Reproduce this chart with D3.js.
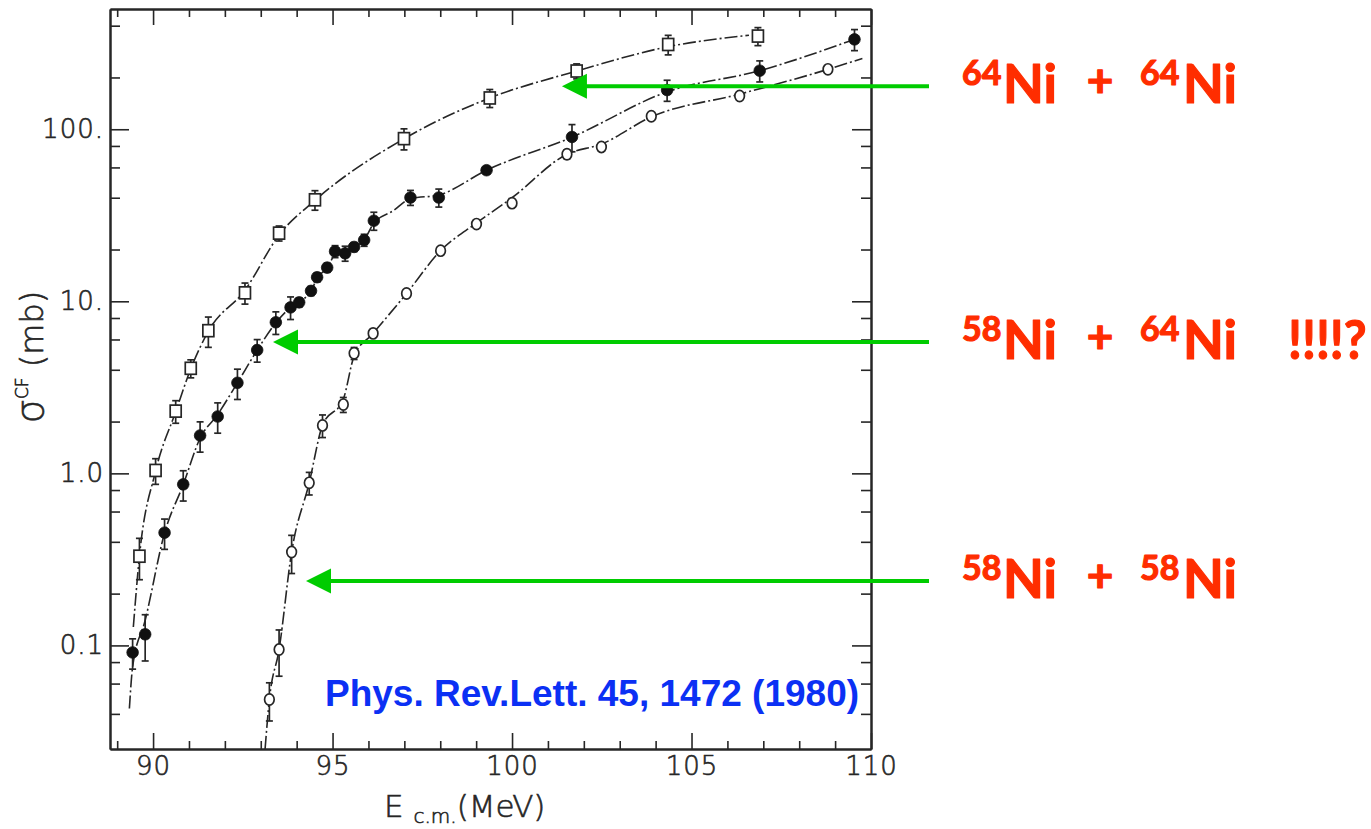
<!DOCTYPE html>
<html>
<head>
<meta charset="utf-8">
<script src="https://cdn.jsdelivr.net/npm/d3@7"></script>
<style>
  html, body { margin: 0; padding: 0; background: #fff; }
  svg { display: block; }
</style>
</head>
<body>
<svg id="chart" width="1371" height="829"></svg>
<script>
// ---- 64Ni + 64Ni (open squares) ----
const sqE   = [89.62, 90.07, 90.63, 91.05, 91.54, 92.56, 93.51, 94.51, 96.99, 99.38, 101.80, 104.35, 106.85];
const sqS   = [0.33, 1.04, 2.30, 4.08, 6.75, 11.2, 24.9, 38.9, 88.2, 152, 218, 311, 348];
const sqErr = [0.27, 0.17, 0.15, 0.12, 0.20, 0.14, 0.10, 0.13, 0.14, 0.12, 0.10, 0.13, 0.12];
const sqFitE = [89.45, 89.62, 90.07, 90.63, 91.05, 91.54, 92.56, 93.51, 94.51, 96.99, 99.38, 101.80, 104.35, 106.60];
const sqFitS = [0.128, 0.33, 1.03, 2.28, 4.05, 6.7, 11.6, 24.3, 38.6, 88, 152, 218, 302, 352];

// ---- 58Ni + 64Ni (filled circles) ----
const fcE   = [89.43, 89.78, 90.32, 90.84, 91.31, 91.80, 92.35, 92.90, 93.42, 93.83, 94.07, 94.40, 94.57, 94.85,
               95.07, 95.35, 95.60, 95.88, 96.15, 97.17, 97.96, 99.29, 101.67, 104.32, 106.90, 109.54];
const fcS   = [0.091, 0.116, 0.452, 0.863, 1.66, 2.14, 3.36, 5.21, 7.55, 9.22, 9.86, 11.5, 13.8, 15.7,
               19.5, 19.0, 20.7, 22.7, 29.4, 40.1, 40.1, 57.8, 90.2, 169, 219, 333];
const fcErr = [0.20, 0.30, 0.20, 0.20, 0.20, 0.20, 0.20, 0.15, 0.15, 0.15, 0.06, 0.06, 0.06, 0.06,
               0.08, 0.10, 0.06, 0.08, 0.12, 0.10, 0.12, 0.04, 0.18, 0.14, 0.14, 0.14];
const fcFitE = [89.34, 89.43, 89.78, 90.32, 90.84, 91.31, 91.80, 92.35, 92.90, 93.42, 93.83, 94.07, 94.40, 94.57,
                94.85, 95.07, 95.35, 95.60, 95.88, 96.15, 96.69, 97.17, 97.96, 99.29, 101.67, 104.32, 106.90, 109.54];
const fcFitS = [0.043, 0.075, 0.14, 0.45, 0.86, 1.6, 2.2, 3.36, 5.2, 7.5, 9.2, 9.9, 11.5, 13.6,
                15.7, 18.6, 19.4, 20.8, 22.7, 28.5, 33.6, 39.5, 41.5, 57.8, 90, 165, 219, 333];

// ---- 58Ni + 58Ni (open circles) ----
const ocE   = [93.24, 93.51, 93.86, 94.35, 94.72, 95.30, 95.60, 96.13, 97.06, 98.01, 99.01, 100.00,
               101.53, 102.49, 103.88, 106.34, 108.80];
const ocS   = [0.0485, 0.0946, 0.349, 0.881, 1.90, 2.51, 4.99, 6.51, 11.1, 19.7, 28.1, 37.2,
               71.6, 78.9, 119, 156, 223];
const ocErr = [0.25, 0.30, 0.25, 0.15, 0.15, 0.10, 0.08, 0.05, 0.05, 0.05, 0.05, 0.04,
               0.06, 0.05, 0.04, 0.04, 0.04];
const ocFitE = [93.12, 93.24, 93.51, 93.86, 94.35, 94.72, 95.30, 95.60, 96.13, 97.06, 98.01, 99.01, 100.00,
                101.53, 102.49, 103.88, 106.34, 108.80, 109.76];
const ocFitS = [0.025, 0.0485, 0.0946, 0.349, 0.881, 1.90, 2.7, 4.8, 6.51, 11.1, 19.7, 28.5, 40,
                71.6, 82, 118, 160, 223, 258];

// ---- axis ticks ----
const xMajorTicks  = [90, 95, 100, 105, 110];
const xMajorLabels = ["90", "95", "100", "105", "110"];
const xMinorTicks  = [89, 91, 92, 93, 94, 96, 97, 98, 99, 101, 102, 103, 104, 106, 107, 108, 109];
const yMajorTicks  = [0.1, 1, 10, 100];
const yMajorLabels = ["0.1", "1.0", "10.", "100."];
const yMinorTicks  = [0.04, 0.06, 0.08, 0.2, 0.4, 0.6, 0.8, 2, 4, 6, 8, 20, 40, 60, 80, 200, 400];

// ---- annotations: reaction labels with arrows pointing at each curve ----
const reactions   = [["64", "64", ""], ["58", "64", "!!!!?"], ["58", "58", ""]];
const arrowTipE   = [101.39, 93.34, 94.26];
const arrowTipS   = [178, 5.80, 0.237];
const citation    = "Phys. Rev.Lett. 45, 1472 (1980)";

// ---------------------------------------------------------------
const svg = d3.select("#chart");
const plot = { left: 110, right: 871, top: 9, bottom: 749 };

const x = d3.scaleLinear().domain([88.8, 110]).range([plot.left, plot.right]);
const y = d3.scaleLog().domain([0.025, 500]).range([plot.bottom, plot.top]);

const ink = "#262626";
const gothic = "'DejaVu Sans', sans-serif";

const chart = svg.append("g").attr("class", "figure");

// light gothic lettering, thickened slightly with a thin outline
function gothicText(sel, size) {
  return sel.attr("font-family", gothic).attr("font-weight", 200).attr("font-size", size)
    .attr("fill", ink).attr("stroke", ink).attr("stroke-width", 0.6);
}

// Axes with inward-pointing ticks on all four sides
function styleAxis(g) {
  g.selectAll("path.domain").attr("stroke", ink).attr("stroke-width", 2);
  g.selectAll(".tick line").attr("stroke", ink).attr("stroke-width", 1.6);
  g.selectAll(".tick text").call(gothicText, 26).attr("letter-spacing", 1);
}
const fmtFrom = (ticks, labels) => v => labels[ticks.indexOf(v)];

// bottom
chart.append("g").attr("transform", `translate(0,${plot.bottom})`)
  .call(d3.axisBottom(x).tickValues(xMinorTicks).tickSize(-8).tickSizeOuter(0).tickFormat(""))
  .call(styleAxis);
chart.append("g").attr("transform", `translate(0,${plot.bottom})`)
  .call(d3.axisBottom(x).tickValues(xMajorTicks).tickSize(-16).tickSizeOuter(0).tickPadding(8)
    .tickFormat(fmtFrom(xMajorTicks, xMajorLabels)))
  .call(styleAxis);
// top
chart.append("g").attr("transform", `translate(0,${plot.top})`)
  .call(d3.axisTop(x).tickValues(xMinorTicks).tickSize(-8).tickSizeOuter(0).tickFormat(""))
  .call(styleAxis);
chart.append("g").attr("transform", `translate(0,${plot.top})`)
  .call(d3.axisTop(x).tickValues(xMajorTicks).tickSize(-16).tickSizeOuter(0).tickFormat(""))
  .call(styleAxis);
// left
chart.append("g").attr("transform", `translate(${plot.left},0)`)
  .call(d3.axisLeft(y).tickValues(yMinorTicks).tickSize(-10).tickSizeOuter(0).tickFormat(""))
  .call(styleAxis);
chart.append("g").attr("transform", `translate(${plot.left},0)`)
  .call(d3.axisLeft(y).tickValues(yMajorTicks).tickSize(-19).tickSizeOuter(0).tickPadding(6)
    .tickFormat(fmtFrom(yMajorTicks, yMajorLabels)))
  .call(styleAxis);
// right
chart.append("g").attr("transform", `translate(${plot.right},0)`)
  .call(d3.axisRight(y).tickValues(yMinorTicks).tickSize(-10).tickSizeOuter(0).tickFormat(""))
  .call(styleAxis);
chart.append("g").attr("transform", `translate(${plot.right},0)`)
  .call(d3.axisRight(y).tickValues(yMajorTicks).tickSize(-19).tickSizeOuter(0).tickFormat(""))
  .call(styleAxis);

// Axis titles
const yTitle = chart.append("text")
  .attr("transform", "translate(43,357) rotate(-90)")
  .attr("text-anchor", "middle")
  .call(gothicText, 32);
yTitle.append("tspan").attr("font-size", 38).text("σ");
yTitle.append("tspan").attr("font-size", 17).attr("dy", -15).text("CF");
yTitle.append("tspan").attr("dy", 15).text(" (mb)");

const xTitle = chart.append("text")
  .attr("x", 384).attr("y", 817)
  .call(gothicText, 31);
xTitle.append("tspan").text("E ");
xTitle.append("tspan").attr("font-size", 20).attr("dy", 6).text("c.m.");
xTitle.append("tspan").attr("dy", -6).text("(MeV)");

// Fitted curves (dash-dot)
const line = d3.line().x(d => x(d[0])).y(d => y(d[1])).curve(d3.curveMonotoneX);
const curves = [
  d3.zip(sqFitE, sqFitS),
  d3.zip(fcFitE, fcFitS),
  d3.zip(ocFitE, ocFitS)
];
chart.append("g").selectAll("path").data(curves).join("path")
  .attr("d", line)
  .attr("fill", "none")
  .attr("stroke", ink)
  .attr("stroke-width", 1.6)
  .attr("stroke-dasharray", "13,3,2,3");

// Error bars
function errorBars(E, S, Err) {
  const g = chart.append("g").attr("stroke", ink).attr("stroke-width", 1.7);
  E.forEach((e, i) => {
    const cx = x(e), lo = y(S[i] * (1 - Err[i])), hi = y(S[i] * (1 + Err[i]));
    g.append("line").attr("x1", cx).attr("x2", cx).attr("y1", lo).attr("y2", hi);
    g.append("line").attr("x1", cx - 3.5).attr("x2", cx + 3.5).attr("y1", lo).attr("y2", lo);
    g.append("line").attr("x1", cx - 3.5).attr("x2", cx + 3.5).attr("y1", hi).attr("y2", hi);
  });
}
errorBars(sqE, sqS, sqErr);
errorBars(fcE, fcS, fcErr);
errorBars(ocE, ocS, ocErr);

// Markers
chart.append("g").selectAll("rect").data(d3.zip(sqE, sqS)).join("rect")
  .attr("x", d => x(d[0]) - 5.5).attr("y", d => y(d[1]) - 6)
  .attr("width", 11).attr("height", 12)
  .attr("fill", "#fff").attr("stroke", ink).attr("stroke-width", 1.7);

chart.append("g").selectAll("circle").data(d3.zip(fcE, fcS)).join("circle")
  .attr("cx", d => x(d[0])).attr("cy", d => y(d[1])).attr("r", 5.8)
  .attr("fill", "#111").attr("stroke", "#111").attr("stroke-width", 0.8);

chart.append("g").selectAll("ellipse").data(d3.zip(ocE, ocS)).join("ellipse")
  .attr("cx", d => x(d[0])).attr("cy", d => y(d[1])).attr("rx", 4.8).attr("ry", 5.6)
  .attr("fill", "#fff").attr("stroke", ink).attr("stroke-width", 1.7);

// Citation
svg.append("text")
  .attr("x", 325).attr("y", 706)
  .attr("font-family", "'Liberation Sans', Arial, sans-serif")
  .attr("font-weight", "bold").attr("font-size", 37)
  .attr("fill", "#0b30f4")
  .text(citation);

// Arrows and reaction labels
const green = "#00cc00", red = "#ff2d00";
const rowBase = [103, 359, 598];
const labelFont = "'Lato', 'Noto Sans', sans-serif";
reactions.forEach((r, i) => {
  const tx = x(arrowTipE[i]), ty = y(arrowTipS[i]);
  svg.append("line")
    .attr("x1", tx + 22).attr("x2", 929).attr("y1", ty).attr("y2", ty)
    .attr("stroke", green).attr("stroke-width", 4);
  svg.append("path")
    .attr("d", `M${tx},${ty}L${tx + 25},${ty - 12.5}L${tx + 25},${ty + 12.5}Z`)
    .attr("fill", green);

  const b = rowBase[i];
  const g = svg.append("g").attr("fill", red).attr("stroke", red).attr("stroke-width", 1.2)
    .attr("stroke-linejoin", "round").attr("font-family", labelFont).attr("font-weight", "bold");
  g.append("text").attr("x", 962).attr("y", b - 18).attr("font-size", 34).text(r[0]);
  g.append("text").attr("x", 1003).attr("y", b).attr("font-size", 54)
    .attr("textLength", 54).attr("lengthAdjust", "spacingAndGlyphs").text("Ni");
  g.append("text").attr("x", 1100).attr("y", b - 6).attr("font-size", 46)
    .attr("text-anchor", "middle").text("+");
  g.append("text").attr("x", 1140).attr("y", b - 18).attr("font-size", 34).text(r[1]);
  g.append("text").attr("x", 1183).attr("y", b).attr("font-size", 54)
    .attr("textLength", 54).attr("lengthAdjust", "spacingAndGlyphs").text("Ni");
  if (r[2]) {
    // narrow the exclamations horizontally so they sit inside the page
    g.append("text").attr("transform", `translate(1288,${b}) scale(0.92,1)`)
      .attr("font-size", 54).text(r[2]);
  }
});
</script>
</body>
</html>
